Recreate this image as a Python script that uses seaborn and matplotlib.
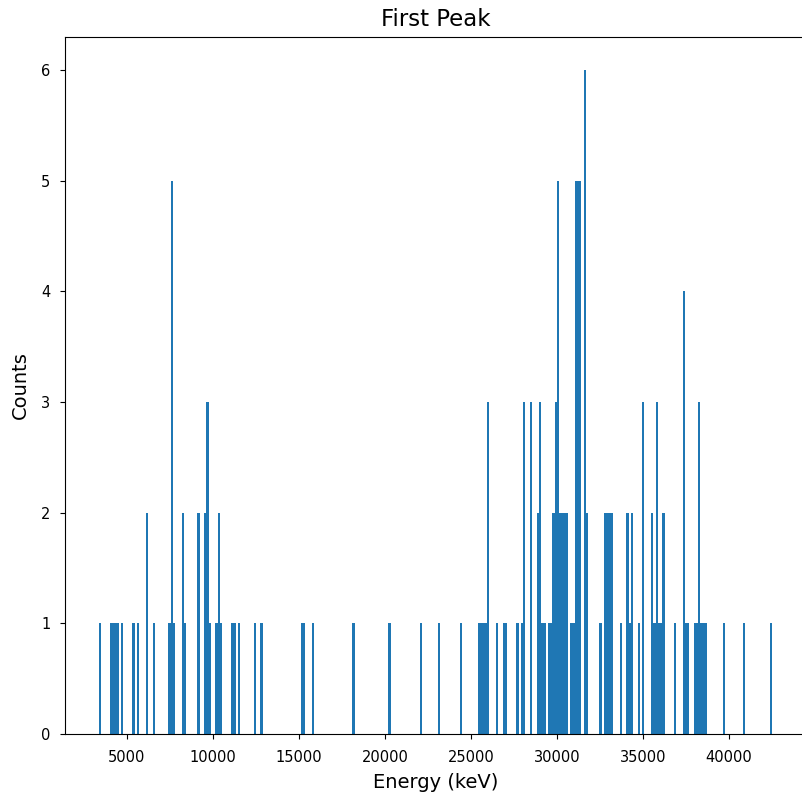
import numpy as np
import pandas as pd
import matplotlib
matplotlib.use("Agg")
import matplotlib.pyplot as plt
import seaborn as sns

# Histogram bin centres (keV) and counts
energy_keV = [3437, 4090, 4220, 4351, 4481, 4742, 5395, 5656, 6177, 6569,
              7482, 7613, 7743, 8265, 8396, 9179, 9570, 9701, 9831, 10223,
              10353, 10484, 11136, 11267, 11528, 12441, 12833, 15181, 15312, 15834,
              18182, 20271, 22098, 23141, 24446, 25490, 25621, 25751, 25882, 26012,
              26534, 26926, 27056, 27709, 27970, 28100, 28492, 28883, 29014, 29144,
              29275, 29536, 29666, 29797, 29927, 30057, 30188, 30318, 30449, 30579,
              30840, 30971, 31101, 31232, 31362, 31623, 31754, 32537, 32798, 32928,
              33059, 33189, 33711, 34103, 34234, 34364, 34756, 35017, 35539, 35669,
              35800, 35930, 36061, 36191, 36844, 37365, 37496, 37626, 38018, 38149,
              38279, 38410, 38540, 38671, 39715, 40889, 42455]
counts = [1, 1, 1, 1, 1, 1, 1, 1, 2, 1,
          1, 5, 1, 2, 1, 2, 2, 3, 1, 1,
          2, 1, 1, 1, 1, 1, 1, 1, 1, 1,
          1, 1, 1, 1, 1, 1, 1, 1, 1, 3,
          1, 1, 1, 1, 1, 3, 3, 2, 3, 1,
          1, 1, 1, 2, 3, 5, 2, 2, 2, 2,
          1, 1, 5, 5, 5, 6, 2, 1, 2, 2,
          2, 2, 1, 2, 1, 2, 1, 3, 2, 1,
          3, 1, 1, 2, 1, 4, 1, 1, 1, 1,
          3, 1, 1, 1, 1, 1, 1]

data_min, data_max = 3372, 42518
n_bins = 300

df = pd.DataFrame({"Energy": energy_keV, "Counts": counts})

fig = plt.figure(figsize=(8.03, 7.95), dpi=100)
ax = fig.add_axes([65 / 803, 61 / 795, 741 / 803, 697 / 795])

sns.histplot(data=df, x="Energy", weights="Counts", bins=n_bins,
             binrange=(data_min, data_max), color="#1f77b4", alpha=1.0,
             linewidth=0, element="bars", fill=True, ax=ax)

ax.set_title("First Peak", fontsize=16.5, pad=8)
ax.set_xlabel("Energy (keV)", fontsize=14, labelpad=5.5)
ax.set_ylabel("Counts", fontsize=14, labelpad=8)
ax.set_xticks([5000, 10000, 15000, 20000, 25000, 30000, 35000, 40000])
ax.set_yticks([0, 1, 2, 3, 4, 5, 6])
ax.tick_params(axis="both", labelsize=10.5)
ax.tick_params(axis="x", pad=8)
ax.tick_params(axis="y", pad=7)

fig.savefig("out.png", dpi=100)
